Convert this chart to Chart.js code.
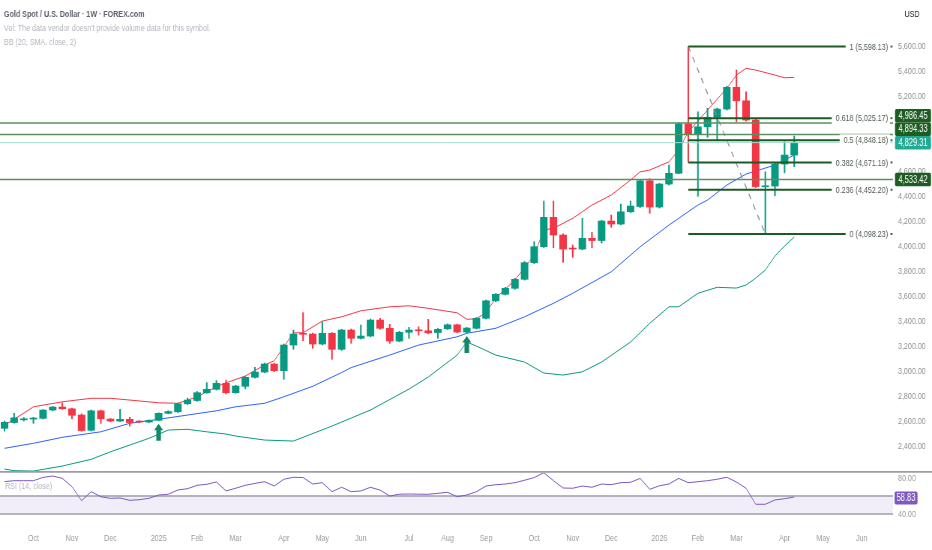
<!DOCTYPE html>
<html>
<head>
<meta charset="utf-8">
<title>Gold Spot / U.S. Dollar</title>
<script src="https://cdn.jsdelivr.net/npm/chart.js@4.4.1/dist/chart.umd.min.js"></script>
<style>
  html, body { margin: 0; padding: 0; background: #fff; }
  #wrap { position: relative; width: 932px; height: 550px; overflow: hidden; }
  #priceChart { position: absolute; left: 0; top: 0; width: 932px; height: 471px; }
  #rsiChart { position: absolute; left: 0; top: 471px; width: 932px; height: 79px; }
</style>
</head>
<body>
<div id="wrap">
  <canvas id="priceChart" width="1243" height="471" style="width:932px;height:471px"></canvas>
  <canvas id="rsiChart" width="1243" height="79" style="width:932px;height:79px"></canvas>
</div>
<script>
// weekly candles, week 0 = 16 Sep 2024, week 82 = 13 Apr 2026
const opens = [2544, 2590, 2612, 2618, 2624, 2690, 2714, 2700, 2650, 2528,
  2684, 2618, 2602, 2616, 2600, 2594, 2608, 2664, 2676, 2740,
  2766, 2829, 2856, 2904, 2829, 2880, 2952, 2994, 3058, 3005,
  3210, 3304, 3298, 3218, 3304, 3176, 3330, 3264, 3282, 3410,
  3344, 3242, 3312, 3330, 3324, 3310, 3340, 3372, 3314, 3344,
  3424, 3564, 3616, 3664, 3736, 3869, 3997, 4232, 4090, 3982,
  3978, 4064, 4046, 4202, 4178, 4276, 4318, 4524, 4314, 4498,
  4584, 4980, 4894, 4956, 5032, 5098, 5272, 5164, 5010, 4476,
  4482, 4658, 4730];
const highs = [2602, 2664, 2630, 2632, 2694, 2720, 2748, 2706, 2660, 2690,
  2690, 2622, 2696, 2632, 2606, 2612, 2668, 2684, 2746, 2786,
  2838, 2909, 2925, 2930, 2888, 2958, 3032, 3066, 3066, 3218,
  3330, 3469, 3306, 3397, 3310, 3336, 3338, 3370, 3418, 3424,
  3376, 3320, 3352, 3356, 3416, 3342, 3380, 3378, 3352, 3430,
  3570, 3622, 3672, 3744, 3878, 4037, 4362, 4362, 4100, 4010,
  4224, 4112, 4208, 4250, 4338, 4362, 4530, 4540, 4504, 4650,
  4990, 5598.13, 5076, 5104, 5106, 5280, 5410, 5236, 5020, 4596,
  4664, 4836, 4882];
const lows = [2522, 2585, 2602, 2584, 2618, 2684, 2696, 2620, 2520, 2522,
  2584, 2596, 2598, 2562, 2588, 2588, 2604, 2660, 2670, 2734,
  2760, 2824, 2850, 2818, 2824, 2861, 2946, 2988, 2998, 2936,
  3176, 3245, 3184, 3210, 3096, 3168, 3224, 3258, 3276, 3336,
  3224, 3236, 3264, 3290, 3300, 3264, 3334, 3308, 3306, 3338,
  3418, 3556, 3610, 3656, 3730, 3862, 3990, 3988, 3872, 3912,
  3972, 3988, 4026, 4152, 4172, 4270, 4310, 4264, 4306, 4490,
  4580, 4674, 4400, 4872, 4850, 5090, 4996, 5002, 4470, 4098.23,
  4404, 4588, 4637];
const closes = [2592, 2628, 2620, 2624, 2690, 2714, 2700, 2648, 2526, 2684,
  2620, 2602, 2616, 2590, 2594, 2608, 2664, 2678, 2740, 2770,
  2829, 2856, 2904, 2829, 2882, 2952, 2994, 3058, 3005, 3210,
  3298, 3296, 3218, 3304, 3176, 3330, 3264, 3282, 3410, 3344,
  3242, 3312, 3330, 3324, 3308, 3336, 3372, 3314, 3346, 3424,
  3564, 3616, 3664, 3736, 3869, 3997, 4232, 4090, 3978, 3978,
  4064, 4046, 4202, 4178, 4276, 4322, 4524, 4314, 4498, 4584,
  4980, 4894, 4956, 5032, 5098, 5272, 5164, 5010, 4478, 4482,
  4658, 4730, 4829.31];

// Bollinger bands (20, 2), read at the weeks listed
const upperWeeks = [0, 1, 3, 6, 9, 11, 13, 16, 18, 20, 22, 23, 25, 27, 28, 30, 31, 33, 35, 37,
  40, 42, 44, 47, 48, 49, 50, 51, 53, 55, 56, 57, 59, 61, 63, 65, 66, 67, 69, 70,
  71, 73, 75, 76, 77, 78, 80, 81, 82];
const upperBand = [2570, 2616, 2716, 2756, 2784, 2784, 2770, 2748, 2744, 2796, 2876, 2908, 2962, 3050, 3084, 3308, 3308, 3402, 3436, 3484,
  3516, 3524, 3504, 3468, 3416, 3420, 3470, 3586, 3730, 3930, 4130, 4144, 4224, 4330, 4410, 4530, 4596, 4610, 4676, 4770,
  4914, 5090, 5264, 5370, 5424, 5410, 5370, 5348, 5352];
const basisWeeks = [0, 3, 6, 10, 13, 16, 19, 22, 24, 27, 29, 32, 35, 36, 40, 43, 47, 48, 51, 54,
  57, 59, 63, 66, 69, 72, 73, 75, 77, 80, 82];
const basisBand = [2384, 2424, 2472, 2516, 2584, 2616, 2650, 2684, 2716, 2744, 2796, 2880, 2990, 3030, 3130, 3210, 3276, 3304, 3344, 3436,
  3544, 3624, 3796, 3996, 4170, 4330, 4370, 4490, 4578, 4650, 4730];
const lowerWeeks = [0, 1, 3, 6, 9, 11, 13, 15, 17, 19, 21, 23, 24, 27, 30, 34, 36, 38, 42, 44,
  47, 48, 49, 51, 54, 56, 58, 60, 62, 65, 67, 69, 70, 72, 74, 76, 77, 78, 79, 80,
  81, 82];
const lowerBand = [2218, 2205, 2202, 2242, 2296, 2356, 2410, 2464, 2530, 2536, 2516, 2498, 2482, 2450, 2442, 2562, 2626, 2690, 2858, 2954,
  3130, 3234, 3202, 3130, 3074, 2986, 2970, 2996, 3074, 3234, 3384, 3516, 3516, 3624, 3672, 3666, 3690, 3746, 3810, 3922,
  4002, 4074];

// RSI (14, close), one value per week
const rsiValues = [76, 77, 77, 77, 80.7, 82.2, 79.6, 70.4, 54.8, 64.8,
  59.2, 57.4, 57.8, 55.2, 55.9, 57.4, 61.1, 61.9, 66.7, 68.1,
  71.9, 73, 75.6, 65.6, 68.6, 71.9, 74, 75.9, 71.1, 78.6,
  80.8, 80.5, 73.3, 74.8, 64.8, 69.7, 64.8, 65.6, 69.7, 66.5,
  60, 62, 62.2, 62, 61.9, 63, 64.1, 59.2, 61.1, 64.8,
  71.1, 72.5, 73.3, 74.8, 77.5, 80.5, 85.9, 77, 68.9, 68.6,
  71.1, 69.7, 73.3, 72.6, 74.8, 75.2, 79.6, 67.4, 71.4, 73.3,
  79.6, 74.8, 75.9, 77, 78.6, 80.8, 75.5, 68.6, 50.8, 50.8,
  55.6, 57, 58.83];
const rsiBand = [40, 60];
const rsiTicks = [40, 80];

// drawings
const levelPrices = [4986.45, 4894.33, 4533.42];
const lastPrice = 4829.31;
const fibRatios = ['1', '0.618', '0.5', '0.382', '0.236', '0'];
const fibPrices = [5598.13, 5025.17, 4848.18, 4671.19, 4452.20, 4098.23];
const fibStartWeek = 71;
const fibEndWeek = 91.75;
const trendWeeks = [71, 79];
const trendPrices = [5598.13, 4098.23];
const arrowWeeks = [16, 48];

const priceTicks = [2400, 2600, 2800, 3000, 3200, 3400, 3600, 3800, 4000, 4200, 4400, 4600, 5200, 5400, 5600];
const tickWeeks = [3, 7, 11, 16, 20, 24, 29, 33, 37, 42, 46, 50, 55, 59, 63, 68, 72, 76, 81, 85, 89];
const tickLabels = ['Oct', 'Nov', 'Dec', '2025', 'Feb', 'Mar', 'Apr', 'May', 'Jun', 'Jul', 'Aug', 'Sep',
  'Oct', 'Nov', 'Dec', '2026', 'Feb', 'Mar', 'Apr', 'May', 'Jun'];

const xMin = -0.47, xMax = 92.26;
const upColor = '#089981', downColor = '#f23645';
const fam = '"Liberation Sans", Arial, sans-serif';
Chart.defaults.font.family = fam;
Chart.defaults.font.size = 9.5;

// canvases are drawn 1243 wide and shown 932 wide, so text comes out narrow
const sx = v => v * 1243 / 932;
const axisW = sx(39);

const fmt = v => v.toLocaleString('en-US', { minimumFractionDigits: 2, maximumFractionDigits: 2 });
const weeks = closes.map((c, i) => i);
const candleColors = weeks.map(i => closes[i] >= opens[i] ? upColor : downColor);
const toPoints = (xs, ys) => xs.map((w, i) => ({ x: w, y: ys[i] }));
const noPad = s => { s.paddingTop = 0; s.paddingBottom = 0; s.paddingLeft = 0; s.paddingRight = 0; };

function box(ctx, x, cy, w, h, color, text) {
    ctx.fillStyle = color;
    ctx.beginPath();
    ctx.roundRect(x, cy - h / 2, w, h, 2);
    ctx.fill();
    ctx.fillStyle = '#ffffff';
    ctx.textAlign = 'center';
    ctx.textBaseline = 'middle';
    ctx.fillText(text, x + w / 2, cy + 0.5);
}

const priceOverlay = {
    id: 'priceOverlay',
    afterDatasetsDraw(chart) {
        const { ctx, chartArea, scales: { x, y } } = chart;
        ctx.save();
        // signal arrows under the candles
        ctx.fillStyle = '#12876a';
        arrowWeeks.forEach(w => {
            const cx = x.getPixelForValue(w);
            const top = y.getPixelForValue(lows[w]) + 3;
            const hw = sx(4.5), sw = sx(2.3);
            ctx.beginPath();
            ctx.moveTo(cx, top);
            ctx.lineTo(cx + hw, top + 6.5);
            ctx.lineTo(cx + sw, top + 6.5);
            ctx.lineTo(cx + sw, top + 17);
            ctx.lineTo(cx - sw, top + 17);
            ctx.lineTo(cx - sw, top + 6.5);
            ctx.lineTo(cx - hw, top + 6.5);
            ctx.closePath();
            ctx.fill();
        });
        // fib level labels
        ctx.font = '9.5px ' + fam;
        ctx.textAlign = 'right';
        ctx.textBaseline = 'middle';
        fibPrices.forEach((p, i) => {
            const py = y.getPixelForValue(p);
            const label = `${fibRatios[i]} (${fmt(p)})`;
            const w = ctx.measureText(label).width;
            const right = chartArea.right - sx(5);
            ctx.fillStyle = '#ffffff';
            ctx.fillRect(right - w - sx(4), py - 6, w + sx(6), 12);
            ctx.fillStyle = '#4f5a4f';
            ctx.fillText(label, right, py + 0.5);
            ctx.fillRect(chartArea.right - sx(2.5), py - 1, sx(2), 2);
        });
        ctx.restore();
    },
    afterDraw(chart) {
        const { ctx, scales: { y } } = chart;
        ctx.save();
        ctx.textBaseline = 'middle';
        ctx.textAlign = 'left';
        ctx.font = 'bold 9.5px ' + fam;
        ctx.fillStyle = '#5d606b';
        ctx.fillText('Gold Spot / U.S. Dollar · 1W · FOREX.com', sx(4), 14);
        ctx.font = '9.5px ' + fam;
        ctx.fillStyle = '#b2b5be';
        ctx.fillText("Vol: The data vendor doesn't provide volume data for this symbol.", sx(4), 28);
        ctx.fillText('BB (20, SMA, close, 2)', sx(4), 42.5);

        ctx.fillStyle = '#131722';
        ctx.textAlign = 'center';
        ctx.fillText('USD', sx(912), 14);

        // price labels on the axis, pushed up when they overlap
        const labels = levelPrices.map(p => ({ p, color: '#1e5c22' }));
        labels.push({ p: lastPrice, color: '#22ab94' });
        labels.sort((a, b) => a.p - b.p);
        const h = 13.5;
        let prev = null;
        ctx.font = '10px ' + fam;
        labels.forEach(l => {
            let cy = y.getPixelForValue(l.p);
            if (prev !== null && cy > prev - h) cy = prev - h;
            prev = cy;
            box(ctx, sx(895), cy, sx(36), h, l.color, fmt(l.p));
        });
        ctx.restore();
    }
};

const hLine = (p, color, width) => ({
    type: 'line', order: 0,
    data: [{ x: xMin, y: p }, { x: xMax, y: p }],
    borderColor: color, borderWidth: width, pointRadius: 0
});

const priceDatasets = [
    ...levelPrices.map(p => hLine(p, '#5b8f5b', 1.5)),
    hLine(lastPrice, '#a3dccf', 1),
    ...fibPrices.map(p => ({
        type: 'line', order: 0,
        data: [{ x: fibStartWeek, y: p }, { x: fibEndWeek, y: p }],
        borderColor: '#1e5a23', borderWidth: 2, pointRadius: 0
    })),
    {
        type: 'line', order: 0,
        data: toPoints(trendWeeks, trendPrices),
        borderColor: '#8d8d8d', borderWidth: 1.3, borderDash: [6, 6], pointRadius: 0
    },
    {
        type: 'bar', order: 1, grouped: false,
        data: weeks.map(i => ({ x: i, y: [opens[i], closes[i]] })),
        backgroundColor: candleColors, barThickness: sx(7), minBarLength: 1, borderWidth: 0
    },
    {
        type: 'bar', order: 2, grouped: false,
        data: weeks.map(i => ({ x: i, y: [lows[i], highs[i]] })),
        backgroundColor: candleColors, barThickness: 1.4, minBarLength: 1, borderWidth: 0
    },
    { type: 'line', order: 3, data: toPoints(upperWeeks, upperBand), borderColor: '#f23645', borderWidth: 1, pointRadius: 0 },
    { type: 'line', order: 3, data: toPoints(basisWeeks, basisBand), borderColor: '#2962ff', borderWidth: 1, pointRadius: 0 },
    { type: 'line', order: 3, data: toPoints(lowerWeeks, lowerBand), borderColor: '#089981', borderWidth: 1, pointRadius: 0 }
];

new Chart(document.getElementById('priceChart'), {
    type: 'line',
    data: { datasets: priceDatasets },
    options: {
        responsive: false,
        animation: false,
        events: [],
        layout: { padding: 0 },
        plugins: { legend: { display: false }, tooltip: { enabled: false } },
        scales: {
            x: { type: 'linear', min: xMin, max: xMax, offset: false, display: false, afterFit: noPad },
            y: {
                type: 'linear', position: 'right', min: 2202.4, max: 5970.4, offset: false, beginAtZero: false,
                afterFit: s => { s.width = axisW; noPad(s); },
                afterBuildTicks: s => { s.ticks = priceTicks.map(v => ({ value: v })); },
                grid: { display: false, drawTicks: false },
                border: { display: false },
                ticks: { padding: sx(5), autoSkip: false, color: '#8f8f8f', callback: v => fmt(v) }
            }
        }
    },
    plugins: [priceOverlay]
});

const rsiOverlay = {
    id: 'rsiOverlay',
    beforeDatasetsDraw(chart) {
        const { ctx, chartArea: a, scales: { y } } = chart;
        const top = y.getPixelForValue(rsiBand[1]);
        const bot = y.getPixelForValue(rsiBand[0]);
        ctx.save();
        ctx.fillStyle = 'rgba(126, 87, 194, 0.1)';
        ctx.fillRect(a.left, top, a.right - a.left, bot - top);
        ctx.strokeStyle = '#9b9ea6';
        ctx.lineWidth = 1.3;
        [top, bot].forEach(py => {
            ctx.beginPath();
            ctx.moveTo(a.left, py);
            ctx.lineTo(a.right, py);
            ctx.stroke();
        });
        ctx.restore();
    },
    afterDraw(chart) {
        const { ctx, width, scales: { y } } = chart;
        ctx.save();
        ctx.strokeStyle = '#9a9da5';
        ctx.lineWidth = 1.8;
        ctx.beginPath();
        ctx.moveTo(0, 0.9);
        ctx.lineTo(width, 0.9);
        ctx.stroke();
        ctx.font = '9.5px ' + fam;
        ctx.fillStyle = '#b2b5be';
        ctx.textAlign = 'left';
        ctx.textBaseline = 'middle';
        ctx.fillText('RSI (14, close)', sx(5), 15.7);
        const last = rsiValues[rsiValues.length - 1];
        ctx.font = '10px ' + fam;
        box(ctx, sx(894.5), y.getPixelForValue(last) + 1, sx(23), 13, '#7e57c2', fmt(last));
        ctx.restore();
    }
};

new Chart(document.getElementById('rsiChart'), {
    type: 'line',
    data: {
        datasets: [{
            data: toPoints(weeks, rsiValues),
            borderColor: '#7e57c2', borderWidth: 1, pointRadius: 0
        }]
    },
    options: {
        responsive: false,
        animation: false,
        events: [],
        layout: { padding: { top: 1.6, left: 0, right: 0, bottom: 0 } },
        plugins: { legend: { display: false }, tooltip: { enabled: false } },
        scales: {
            x: {
                type: 'linear', position: 'bottom', min: xMin, max: xMax, offset: false,
                afterFit: s => { s.height = 27; noPad(s); },
                afterBuildTicks: s => { s.ticks = tickWeeks.map(v => ({ value: v })); },
                grid: { display: false, drawTicks: false },
                border: { display: false },
                ticks: {
                    padding: 10, autoSkip: false, maxRotation: 0, color: '#9a9a9a',
                    callback: (v, i) => tickLabels[i]
                }
            },
            y: {
                type: 'linear', position: 'right', min: 30, max: 86, offset: false,
                afterFit: s => { s.width = axisW; noPad(s); },
                afterBuildTicks: s => { s.ticks = rsiTicks.map(v => ({ value: v })); },
                grid: { display: false, drawTicks: false },
                border: { display: false },
                ticks: { padding: sx(5), color: '#9a9a9a', callback: v => fmt(v) }
            }
        }
    },
    plugins: [rsiOverlay]
});
</script>
</body>
</html>
